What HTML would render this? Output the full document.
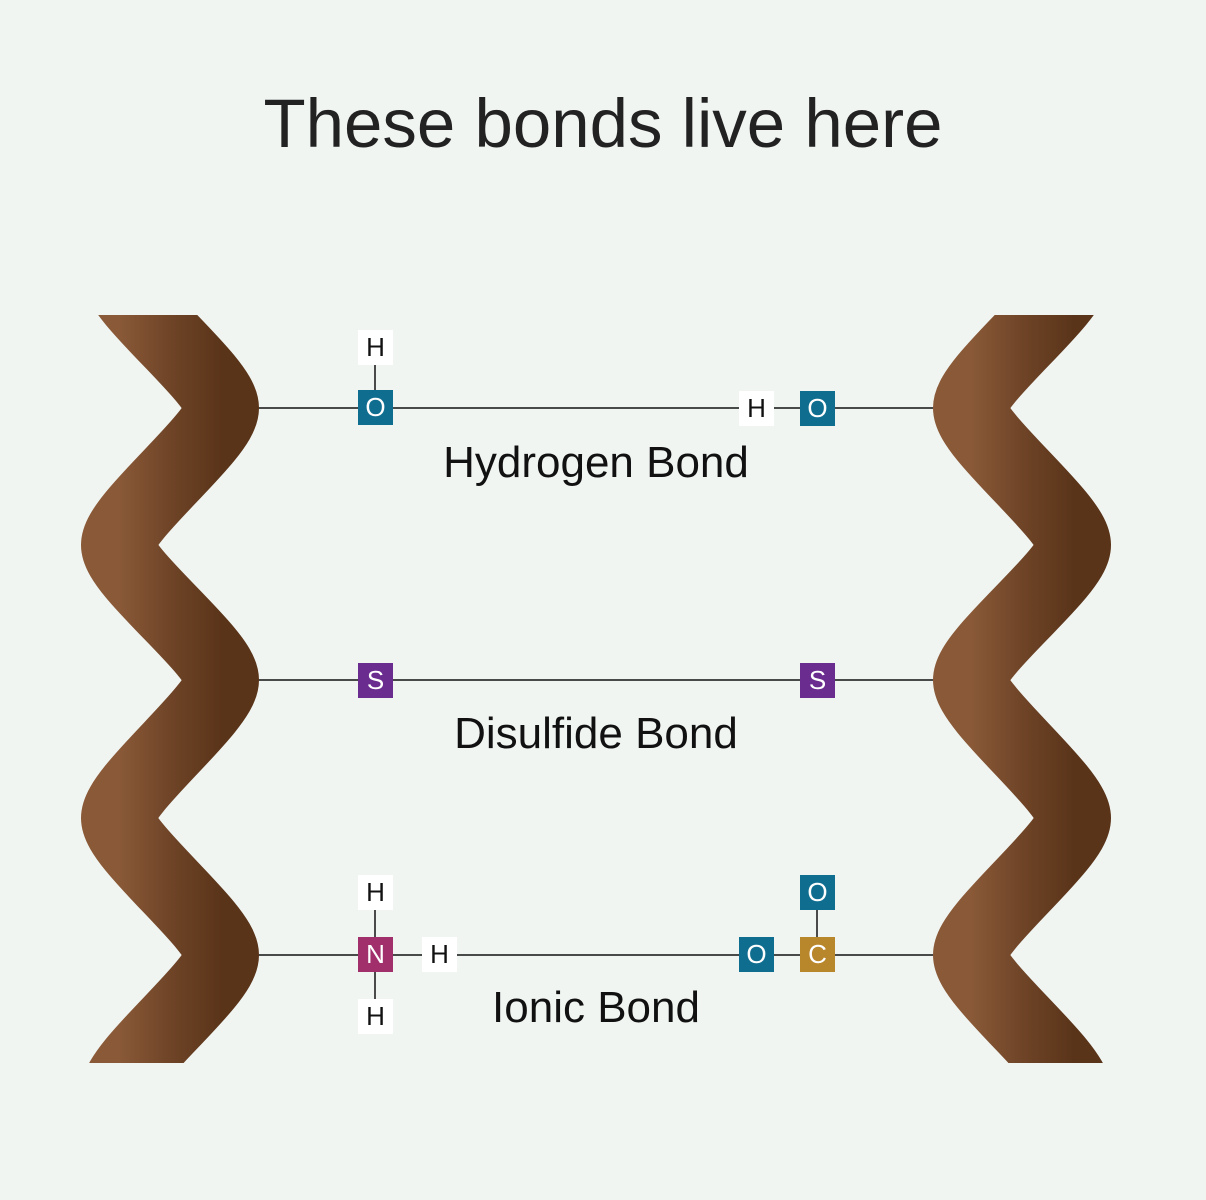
<!DOCTYPE html>
<html><head><meta charset="utf-8"><style>
html,body{margin:0;padding:0;background:#f1f5f2;}
body{width:1206px;height:1200px;position:relative;overflow:hidden;font-family:"Liberation Sans",sans-serif;}
.t{position:absolute;left:0;width:1206px;text-align:center;color:#222;}
.b{position:absolute;width:35px;height:35px;line-height:35px;text-align:center;color:#fff;font-size:26px;}
.w{background:#fff;color:#111;}
.teal{background:#0f6e8f}.pur{background:#6b2c8f}.mag{background:#a02f6c}.gold{background:#b8862b}
.lbl{position:absolute;left:0;width:1192px;text-align:center;font-size:44px;color:#111;}
</style></head><body>
<svg width="1206" height="1200" style="position:absolute;left:0;top:0">
<defs>
<clipPath id="c"><rect x="0" y="315" width="1206" height="748"/></clipPath>
<linearGradient id="g" x1="0" y1="0" x2="1" y2="0">
<stop offset="0" stop-color="#8a5a38"/><stop offset="0.5" stop-color="#6f4427"/><stop offset="1" stop-color="#5a3419"/>
</linearGradient>
</defs>
<g stroke="#111" stroke-width="1.5">
<line x1="258" y1="408" x2="934" y2="408"/>
<line x1="258" y1="680" x2="934" y2="680"/>
<line x1="258" y1="955" x2="934" y2="955"/>
<line x1="375" y1="360" x2="375" y2="395"/>
<line x1="375" y1="905" x2="375" y2="1005"/>
<line x1="817" y1="905" x2="817" y2="940"/>
</g>
<g clip-path="url(#c)" fill="none" stroke="url(#g)" stroke-width="74">
<path d="M118 272 C118 300 222 380 222 408 C222 436 118 517 118 545 C118 573 222 652 222 680 C222 708 118 790 118 818 C118 846 222 927 222 955 C222 983 118 1064 118 1092"/>
<path d="M1074 272 C1074 300 970 380 970 408 C970 436 1074 517 1074 545 C1074 573 970 652 970 680 C970 708 1074 790 1074 818 C1074 846 970 927 970 955 C970 983 1074 1064 1074 1092"/>
</g>
</svg>
<div class="t" style="top:84px;font-size:69px;">These bonds live here</div>
<div class="b w" style="left:358px;top:330px">H</div>
<div class="b teal" style="left:358px;top:390px">O</div>
<div class="b w" style="left:739px;top:391px">H</div>
<div class="b teal" style="left:800px;top:391px">O</div>
<div class="lbl" style="top:438px">Hydrogen Bond</div>
<div class="b pur" style="left:358px;top:663px">S</div>
<div class="b pur" style="left:800px;top:663px">S</div>
<div class="lbl" style="top:709px">Disulfide Bond</div>
<div class="b w" style="left:358px;top:875px">H</div>
<div class="b mag" style="left:358px;top:937px">N</div>
<div class="b w" style="left:422px;top:937px">H</div>
<div class="b w" style="left:358px;top:999px">H</div>
<div class="b teal" style="left:739px;top:937px">O</div>
<div class="b gold" style="left:800px;top:937px">C</div>
<div class="b teal" style="left:800px;top:875px">O</div>
<div class="lbl" style="top:983px">Ionic Bond</div>
</body></html>
